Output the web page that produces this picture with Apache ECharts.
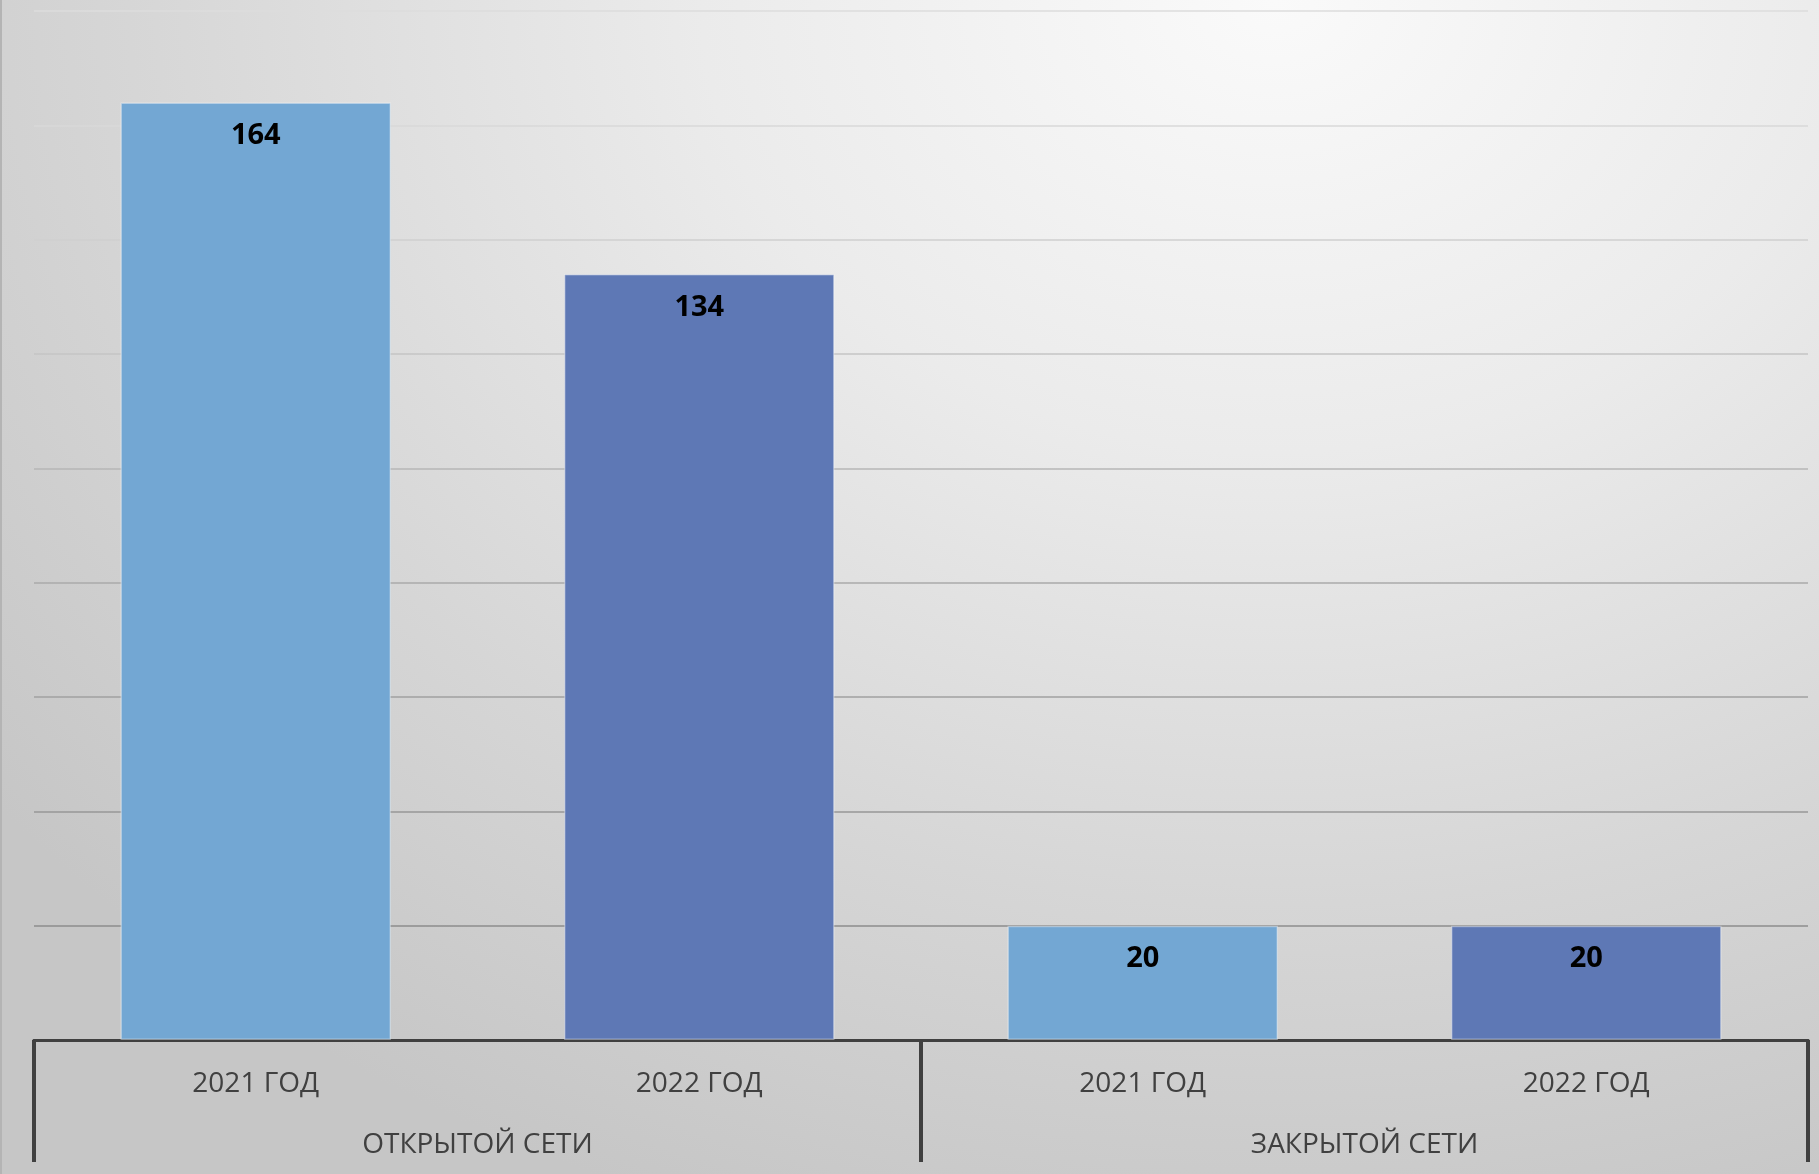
<!DOCTYPE html>
<html>
<head>
<meta charset="utf-8">
<script src="https://cdn.jsdelivr.net/npm/echarts@6/dist/echarts.min.js"></script>
<style>
  html, body { margin: 0; padding: 0; }
  #main {
    width: 1819px; height: 1174px;
    background: radial-gradient(ellipse 90% 110% at 70% 0%, #fafafa 0%, #ebebeb 35%, #d6d6d6 70%, #c6c6c6 100%);
    box-sizing: border-box;
    border-left: 2px solid #b4b4b4;
  }
</style>
</head>
<body>
<div id="main"></div>
<script>
// подписи категорий (нижний уровень) и групп (верхний уровень)
const yearLabels = ['2021 ГОД', '2022 ГОД', '2021 ГОД', '2022 ГОД'];
const groupLabels = ['ОТКРЫТОЙ СЕТИ', 'ЗАКРЫТОЙ СЕТИ'];
const values = [164, 134, 20, 20];
const yearColors = { '2021 ГОД': '#73a7d3', '2022 ГОД': '#5e78b5' };
const yTicks = [0, 20, 40, 60, 80, 100, 120, 140, 160, 180];
// цвета линий сетки снизу вверх
const gridColors = ['#8a8a8a', '#8c8c8c', '#979797', '#a0a0a0', '#aaaaaa', '#b6b6b6', '#c4c4c4', '#cfcfcf', '#d9d9d9', '#dcdcdc'];

const chart = echarts.init(document.getElementById('main'));

chart.setOption({
  backgroundColor: 'transparent',
  animation: false,
  grid: { left: 32, right: 11, top: 11, bottom: 134 },
  xAxis: [
    {
      type: 'category',
      data: yearLabels,
      axisLine: { show: true, lineStyle: { color: '#404040', width: 3 } },
      axisTick: { show: false },
      axisLabel: {
        interval: 0, margin: 30,
        fontFamily: 'Open Sans', fontSize: 28, color: '#404040'
      }
    },
    {
      type: 'category',
      data: groupLabels,
      position: 'bottom',
      axisLine: { show: true, lineStyle: { color: '#404040', width: 3 } },
      axisTick: { show: true, interval: 0, length: 122, lineStyle: { color: '#404040', width: 4 } },
      axisLabel: {
        interval: 0, margin: 91,
        fontFamily: 'Open Sans', fontSize: 28, color: '#404040'
      }
    }
  ],
  yAxis: {
    type: 'value',
    min: yTicks[0],
    max: yTicks[yTicks.length - 1],
    interval: 20,
    axisLine: { show: false },
    axisTick: { show: false },
    axisLabel: { show: false },
    splitLine: { show: true, lineStyle: { color: gridColors, width: 1.5 } }
  },
  series: [
    {
      type: 'bar',
      xAxisIndex: 0,
      barWidth: '61%',
      data: values.map((v, i) => ({
        value: v,
        itemStyle: { color: yearColors[yearLabels[i]] }
      })),
      itemStyle: { borderColor: 'rgba(255,255,255,0.35)', borderWidth: 1.5 },
      label: {
        show: true,
        position: 'insideTop',
        distance: 19,
        fontFamily: 'Open Sans',
        fontWeight: 'bold',
        fontSize: 29,
        color: '#000'
      }
    }
  ]
});
</script>
</body>
</html>
